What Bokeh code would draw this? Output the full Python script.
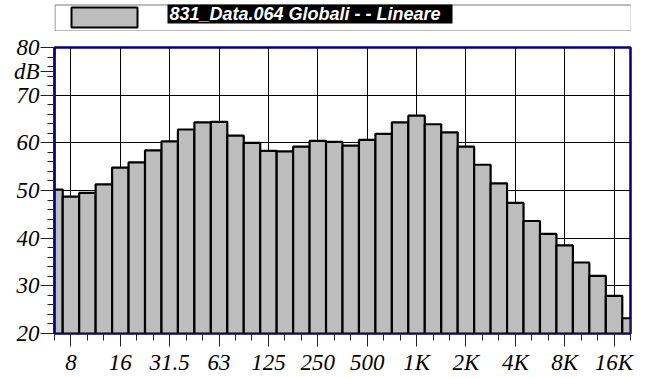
from bokeh.plotting import figure
from bokeh.models import Range1d, FixedTicker
from bokeh.layouts import column
from bokeh.core.properties import value
from bokeh.embed import file_html
from bokeh.resources import INLINE

# ---- data (third-octave bands, dB linear) ----
bands = ["6.3", "8", "10", "12.5", "16", "20", "25", "31.5", "40", "50", "63", "80",
         "100", "125", "160", "200", "250", "315", "400", "500", "630", "800",
         "1K", "1.25K", "1.6K", "2K", "2.5K", "3.15K", "4K", "5K", "6.3K", "8K",
         "10K", "12.5K", "16K", "20K"]
levels = [50.2, 48.7, 49.5, 51.3, 54.8, 55.9, 58.4, 60.3, 62.8, 64.3, 64.4, 61.5,
          60.0, 58.3, 58.2, 59.2, 60.4, 60.2, 59.4, 60.6, 61.9, 64.3,
          65.7, 63.9, 62.2, 59.2, 55.4, 51.5, 47.4, 43.6, 40.9, 38.5,
          34.9, 32.1, 27.9, 23.2]
tick_labels = ["8", "16", "31.5", "63", "125", "250", "500", "1K", "2K", "4K", "8K", "16K"]
y_ticks = [20, 30, 40, 50, 60, 70, 80]
y_unit = "dB"
y_unit_at = 75
legend_text = "831_Data.064 Globali -  - Lineare"

BAR_FILL = "#bdbdbd"
NAVY = "#000080"
SERIF = "Liberation Serif"

W = 645
BL, BR = 54, 15          # left / right borders, shared by both figures
FW = W - BL - BR         # frame width in px

# ---- legend strip (coordinates in pixels inside its frame) ----
LH = 31
leg = figure(width=W, height=LH, x_range=Range1d(0, FW), y_range=Range1d(0, LH),
             toolbar_location=None, output_backend="svg",
             x_axis_location=None, y_axis_location=None,
             min_border_left=BL, min_border_right=BR, min_border_top=0, min_border_bottom=0)
leg.xgrid.visible = False
leg.ygrid.visible = False
leg.outline_line_color = None
leg.border_fill_color = "white"
leg.quad(left=[0.5], right=[576.5], bottom=[0.5], top=[26.5],
         fill_color="white", line_color="#7a7a7a", line_width=1)
leg.quad(left=[17], right=[83], bottom=[4], top=[24],
         fill_color=BAR_FILL, line_color="black", line_width=2)
leg.quad(left=[113], right=[398], bottom=[8], top=[27],
         fill_color="black", line_color=None)
leg.text(x=[115], y=[17.5], text=[legend_text], text_color="white",
         text_font=value("Liberation Sans"), text_font_style="bold italic",
         text_font_size="18px", text_baseline="middle", text_align="left")

# ---- main chart ----
idx = list(range(len(bands)))
major_idx = [bands.index(lab) for lab in tick_labels]

p = figure(width=W, height=378 - LH, x_range=Range1d(0, len(bands) - 1), y_range=Range1d(20, 80),
           toolbar_location=None, output_backend="svg",
           min_border_left=BL, min_border_right=BR, min_border_top=16, min_border_bottom=45)
p.background_fill_color = "white"
p.border_fill_color = "white"
p.outline_line_color = NAVY
p.outline_line_width = 2.5

p.vbar(x=idx, top=levels, bottom=19, width=1.0, fill_color=BAR_FILL,
       line_color="black", line_width=2.2)

# x axis
p.xaxis.ticker = FixedTicker(ticks=major_idx, minor_ticks=idx)
p.xaxis.major_label_overrides = {i: lab for i, lab in zip(major_idx, tick_labels)}
p.xaxis.major_tick_out = 13
p.xaxis.major_tick_in = 0
p.xaxis.minor_tick_out = 7
p.xaxis.minor_tick_in = 0
p.xaxis.major_tick_line_color = "#222222"
p.xaxis.minor_tick_line_color = "#222222"
p.xaxis.axis_line_color = NAVY
p.xaxis.major_label_standoff = 3
p.xaxis.major_label_text_font = SERIF
p.xaxis.major_label_text_font_style = "italic"
p.xaxis.major_label_text_font_size = "23px"
p.xaxis.major_label_text_color = "black"

# y axis (unit "dB" shown as a label between 80 and 70)
p.yaxis.ticker = FixedTicker(ticks=y_ticks + [y_unit_at], minor_ticks=list(range(20, 81, 2)))
p.yaxis.major_label_overrides = {y_unit_at: y_unit}
p.yaxis.major_tick_out = 14
p.yaxis.major_tick_in = 0
p.yaxis.minor_tick_out = 7
p.yaxis.minor_tick_in = 0
p.yaxis.major_tick_line_color = "#222222"
p.yaxis.minor_tick_line_color = "#222222"
p.yaxis.axis_line_color = NAVY
p.yaxis.axis_line_width = 2
p.yaxis.major_label_standoff = 1
p.yaxis.major_label_text_font = SERIF
p.yaxis.major_label_text_font_style = "italic"
p.yaxis.major_label_text_font_size = "23px"
p.yaxis.major_label_text_color = "black"

# grid
p.xgrid.grid_line_color = "black"
p.xgrid.grid_line_width = 1
p.ygrid.ticker = FixedTicker(ticks=y_ticks)
p.ygrid.grid_line_color = "black"
p.ygrid.grid_line_width = 1

layout = column(leg, p, spacing=0)
open("out.html", "w").write(file_html(layout, INLINE))
